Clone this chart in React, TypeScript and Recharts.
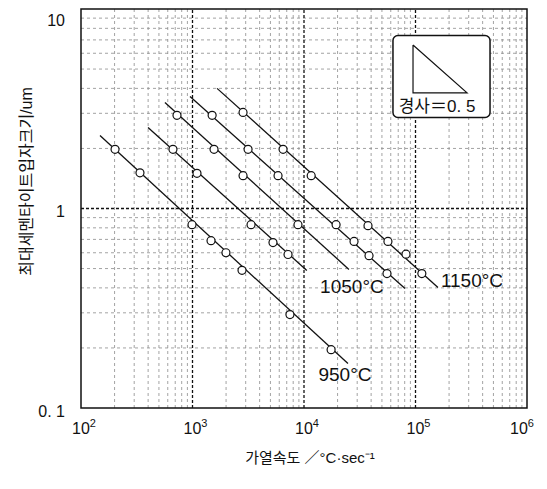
import { ScatterChart, Scatter, XAxis, YAxis, ReferenceLine, ReferenceArea, ReferenceDot, Label } from "recharts";

const FONT = "'Liberation Sans', 'Noto Sans CJK KR', sans-serif";
const INK = "#111";

const xTicks = [100, 1000, 10000, 100000, 1000000];
const yTicks = [0.1, 1, 10];
const yTickLabels: Record<string, string> = { "0.1": "0. 1", "1": "1", "10": "10" };

const minorSteps = [2, 3, 4, 5, 6, 7, 8, 9];
const xDecades = [100, 1000, 10000, 100000];
const yDecades = [0.1, 1];
const xMajor = [1000, 10000, 100000];
const yMajor = [1];

// fitted lines (start / end) and measured points, per temperature
const line950 = [{ x: 148, y: 2.32 }, { x: 24800, y: 0.167 }];
const pts950 = [
	{ x: 202, y: 1.98 }, { x: 338, y: 1.51 }, { x: 990, y: 0.83 }, { x: 1466, y: 0.69 },
	{ x: 1995, y: 0.6 }, { x: 2780, y: 0.49 }, { x: 7480, y: 0.294 }, { x: 17500, y: 0.196 },
];
const line1000 = [{ x: 399, y: 2.55 }, { x: 10600, y: 0.489 }];
const pts1000 = [
	{ x: 668, y: 1.98 }, { x: 1097, y: 1.5 }, { x: 3350, y: 0.83 }, { x: 5270, y: 0.675 }, { x: 7190, y: 0.588 },
];
const line1050 = [{ x: 566, y: 3.4 }, { x: 25300, y: 0.495 }];
const pts1050 = [
	{ x: 726, y: 2.93 }, { x: 1560, y: 1.98 }, { x: 2840, y: 1.46 }, { x: 8830, y: 0.83 },
];
const line1100 = [{ x: 950, y: 3.64 }, { x: 80500, y: 0.397 }];
const pts1100 = [
	{ x: 1500, y: 2.93 }, { x: 3150, y: 1.98 }, { x: 5850, y: 1.46 }, { x: 19400, y: 0.83 },
	{ x: 28100, y: 0.684 }, { x: 38300, y: 0.58 }, { x: 55500, y: 0.472 },
];
const line1150 = [{ x: 1660, y: 4.0 }, { x: 159000, y: 0.402 }];
const pts1150 = [
	{ x: 2840, y: 3.03 }, { x: 6490, y: 1.98 }, { x: 11600, y: 1.46 }, { x: 37500, y: 0.82 },
	{ x: 56600, y: 0.684 }, { x: 82200, y: 0.59 }, { x: 114000, y: 0.472 },
];

const lines = [line950, line1000, line1050, line1100, line1150];
const points = [pts950, pts1000, pts1050, pts1100, pts1150];

const tempLabels = [
	{ text: "950°C", x: 23300, y: 0.147 },
	{ text: "1050°C", x: 26900, y: 0.406 },
	{ text: "1150°C", x: 321000, y: 0.436 },
];

// slope inset
const insetBox = { x1: 62800, x2: 466000, y1: 2.86, y2: 7.36 };
const slopeTriangle = [
	{ x: 95000, y: 6.6 }, { x: 95000, y: 3.8 }, { x: 290000, y: 3.8 }, { x: 95000, y: 6.6 },
];
const slopeText = { text: "경사＝0. 5", x: 156000, y: 3.25 };

const xMinor = xDecades.flatMap((d) => minorSteps.map((s) => d * s));
const yMinor = yDecades.flatMap((d) => minorSteps.map((s) => d * s));

function XTick(props: any) {
	const { x, y, payload } = props;
	const exp = String(Math.round(Math.log10(payload.value)));
	return (
		<text x={x + 3} y={y + 26} textAnchor="middle" fontSize={16} fontFamily={FONT} fill={INK}>
			10<tspan dy={-7} fontSize={11}>{exp}</tspan>
		</text>
	);
}

function YTick(props: any) {
	const { x, y, payload } = props;
	return (
		<text x={x} y={y + 3} textAnchor="end" dominantBaseline="central" fontSize={16} fontFamily={FONT} fill={INK}>
			{yTickLabels[String(payload.value)]}
		</text>
	);
}

const noShape = () => <g />;

const ringShape = (p: any) => (
	<circle cx={p.cx} cy={p.cy} r={4} fill="#fff" stroke={INK} strokeWidth={1.2} />
);

const textShape = (text: string, size: number) => (p: any) => (
	<text x={p.cx} y={p.cy} textAnchor="middle" dominantBaseline="central" fontSize={size} fontFamily={FONT} fill={INK}>
		{text}
	</text>
);

export default function App() {
	return (
		<ScatterChart width={539}
		              height={473}
		              margin={{ top: 1, right: 20, bottom: 0, left: 0 }}>
			<XAxis dataKey="x"
			       type="number"
			       scale="log"
			       domain={[100, 1000000]}
			       ticks={xTicks}
			       allowDataOverflow
			       axisLine={false}
			       tickLine={false}
			       tickSize={0}
			       tickMargin={0}
			       height={73}
			       tick={<XTick />}>
				<Label content={(p: any) => (
					<text x={p.viewBox.x + p.viewBox.width / 2 + 6}
					      y={p.viewBox.y + 55}
					      textAnchor="middle"
					      fontSize={15}
					      fontFamily={FONT}
					      fill={INK}>
						가열속도 ／°C·sec⁻¹
					</text>
				)} />
			</XAxis>
			<YAxis dataKey="y"
			       type="number"
			       scale="log"
			       domain={[0.1, 10]}
			       ticks={yTicks}
			       allowDataOverflow
			       axisLine={false}
			       tickLine={false}
			       tickSize={0}
			       tickMargin={16}
			       width={73}
			       tick={<YTick />}>
				<Label content={(p: any) => (
					<text transform={`translate(${p.viewBox.x + 18}, ${p.viewBox.y + p.viewBox.height / 2 - 27}) rotate(-90)`}
					      textAnchor="middle"
					      dominantBaseline="central"
					      fontSize={16}
					      fontFamily={FONT}
					      fill={INK}>
						최대세멘타이트입자크기/um
					</text>
				)} />
			</YAxis>

			{xMinor.map((v) => (
				<ReferenceLine key={`xm${v}`} x={v} stroke="#8c8c8c" strokeWidth={0.8} strokeDasharray="3 3" />
			))}
			{yMinor.map((v) => (
				<ReferenceLine key={`ym${v}`} y={v} stroke="#8c8c8c" strokeWidth={0.8} strokeDasharray="3 3" />
			))}
			{xMajor.map((v) => (
				<ReferenceLine key={`xM${v}`} x={v} stroke={INK} strokeWidth={1.3} strokeDasharray="3 2" />
			))}
			{yMajor.map((v) => (
				<ReferenceLine key={`yM${v}`} y={v} stroke={INK} strokeWidth={1.3} strokeDasharray="3 2" />
			))}

			<ReferenceArea x1={100} x2={1000000} y1={0.1} y2={10} fill="none" stroke={INK} strokeWidth={1.5} zIndex={450} />

			<ReferenceArea x1={insetBox.x1}
			               x2={insetBox.x2}
			               y1={insetBox.y1}
			               y2={insetBox.y2}
			               zIndex={450}
			               shape={(p: any) => (
				               <rect x={p.x} y={p.y} width={p.width} height={p.height} rx={5}
				                     fill="#fff" stroke={INK} strokeWidth={1.5} />
			               )} />

			{lines.map((d, i) => (
				<Scatter key={`l${i}`}
				         data={d}
				         line={{ stroke: INK, strokeWidth: 1.3 }}
				         shape={noShape}
				         legendType="none"
				         isAnimationActive={false} />
			))}
			{points.map((d, i) => (
				<Scatter key={`p${i}`}
				         data={d}
				         shape={ringShape}
				         legendType="none"
				         isAnimationActive={false} />
			))}

			<Scatter data={slopeTriangle}
			         line={{ stroke: INK, strokeWidth: 1.2 }}
			         shape={noShape}
			         legendType="none"
			         zIndex={700}
			         isAnimationActive={false} />

			{tempLabels.map((t) => (
				<ReferenceDot key={t.text} x={t.x} y={t.y} r={0} shape={textShape(t.text, 19)} />
			))}
			<ReferenceDot x={slopeText.x} y={slopeText.y} r={0} zIndex={800} shape={textShape(slopeText.text, 17)} />
		</ScatterChart>
	);
}
